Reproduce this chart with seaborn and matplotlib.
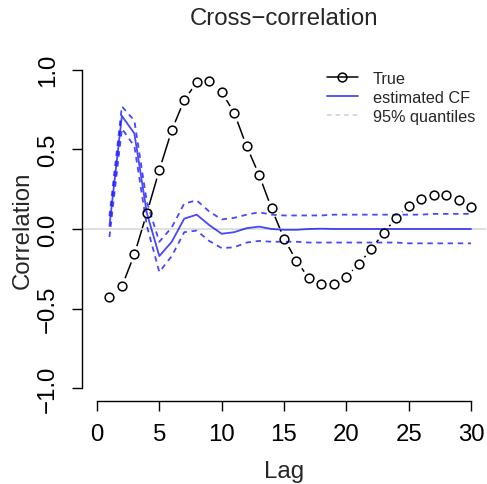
import matplotlib
matplotlib.use("Agg")
import matplotlib.pyplot as plt
from matplotlib.lines import Line2D
import numpy as np
import pandas as pd
import seaborn as sns

# Lags and cross-correlation values
lags = list(range(1, 31))
true_cf = [-0.43, -0.36, -0.16, 0.10, 0.37, 0.62, 0.81, 0.92, 0.93, 0.86,
           0.73, 0.52, 0.34, 0.13, -0.06, -0.20, -0.31, -0.345, -0.345, -0.30,
           -0.22, -0.125, -0.025, 0.07, 0.145, 0.19, 0.215, 0.215, 0.18, 0.14]
est_cf = [0.02, 0.71, 0.60, 0.10, -0.17, -0.08, 0.065, 0.09, 0.025, -0.03,
          -0.02, 0.005, 0.015, 0.0, -0.005, -0.005, 0.0, 0.002, 0.0, 0.0,
          0.0, 0.0, 0.0, 0.0, 0.0, 0.0, 0.0, 0.0, 0.0, 0.0]
upper_q = [0.08, 0.77, 0.68, 0.17, -0.08, 0.01, 0.16, 0.18, 0.11, 0.06,
           0.07, 0.09, 0.105, 0.09, 0.085, 0.085, 0.085, 0.085, 0.09, 0.09,
           0.09, 0.09, 0.09, 0.09, 0.09, 0.09, 0.095, 0.095, 0.095, 0.095]
lower_q = [-0.05, 0.63, 0.52, 0.02, -0.27, -0.17, -0.02, -0.01, -0.075, -0.12,
           -0.115, -0.085, -0.075, -0.08, -0.08, -0.08, -0.085, -0.085, -0.085, -0.085,
           -0.085, -0.085, -0.085, -0.085, -0.09, -0.09, -0.09, -0.09, -0.09, -0.09]

x_ticks = [0, 5, 10, 15, 20, 25, 30]
y_ticks = [-1.0, -0.5, 0.0, 0.5, 1.0]
y_tick_labels = ["\u22121.0", "\u22120.5", "0.0", "0.5", "1.0"]
legend_labels = ["True", "estimated CF", "95% quantiles"]

df = pd.DataFrame({"lag": lags, "true": true_cf, "est": est_cf,
                   "upper": upper_q, "lower": lower_q})

sns.set_style("white")
plt.rcParams["font.family"] = ["Liberation Sans", "DejaVu Sans"]

W, H = 487, 485
fig = plt.figure(figsize=(W / 100, H / 100), dpi=100)
ax_bottom = 83
ax_height = 344
ax = fig.add_axes([82 / W, ax_bottom / H, 404 / W, ax_height / H])

blue = (0.0, 0.0, 1.0, 0.72)

# True CF: connecting line with gaps around points ("both" style)
sns.lineplot(data=df, x="lag", y="true", ax=ax, color="black", lw=1.1,
             zorder=2, legend=False)
ax.plot(df["lag"], df["true"], ls="none", marker="o", ms=11.5,
        mfc="white", mec="white", zorder=2.1)

# zero reference
ax.axhline(0, color="#d9d9d9", lw=1.2, zorder=2.2)

# estimated CF and its quantile band
sns.lineplot(data=df, x="lag", y="est", ax=ax, color=blue, lw=1.3,
             zorder=3, legend=False)
for col in ["upper", "lower"]:
    sns.lineplot(data=df, x="lag", y=col, ax=ax, color=blue, lw=1.3,
                 zorder=3, legend=False)
    ax.lines[-1].set_dashes((3.0, 2.6))

ax.plot(df["lag"], df["true"], ls="none", marker="o", ms=6.3,
        mfc="none", mec="black", mew=1.1, zorder=4)

ax.set_xlim(-1.2, 31.2)
ax.set_ylim(-1.08, 1.08)
ax.set_xticks(x_ticks)
ax.set_xticklabels([str(t) for t in x_ticks])
ax.set_yticks(y_ticks)
ax.set_yticklabels(y_tick_labels, rotation=90, va="center")

for s in ["top", "right"]:
    ax.spines[s].set_visible(False)
for s in ["left", "bottom"]:
    ax.spines[s].set_color("black")
    ax.spines[s].set_linewidth(1.0)
ax.spines["left"].set_bounds(-1, 1)
ax.spines["bottom"].set_bounds(0, 30)

fs = 17.3
ax.tick_params(axis="both", bottom=True, left=True, direction="out",
               length=7, width=1, color="black",
               labelsize=fs, labelcolor="black")
ax.tick_params(axis="x", pad=8.5)
ax.tick_params(axis="y", pad=9.5)

ax.set_xlabel("Lag", fontsize=fs)
ax.xaxis.label.set_va("center")
ax.xaxis.set_label_coords(0.5, ((H - 472) - ax_bottom) / ax_height,
                          transform=ax.transAxes)
ax.set_ylabel("Correlation", fontsize=fs)
ax.yaxis.label.set_va("center")
ax.yaxis.set_label_coords((23 - 82) / 404, 0.5, transform=ax.transAxes)

ax.set_title("Cross\u2212correlation", fontsize=fs, pad=0,
             y=((H - 19) - ax_bottom) / ax_height, va="center")

lfs = 11.7
handles = [
    Line2D([], [], color="black", lw=1.1, marker="o", ms=6.3, mfc="none", mew=1.1),
    Line2D([], [], color=blue, lw=1.3),
    Line2D([], [], color="#cfcfcf", lw=1.1, dashes=(3.0, 2.6)),
]
ax.legend(handles, legend_labels, loc="upper left",
          bbox_to_anchor=(327 / W, 1 - 72 / H), bbox_transform=fig.transFigure,
          frameon=False, fontsize=lfs, borderpad=0, borderaxespad=0,
          handlelength=1.9, handletextpad=0.92, labelspacing=0.24)

fig.savefig("out.png", dpi=100)
